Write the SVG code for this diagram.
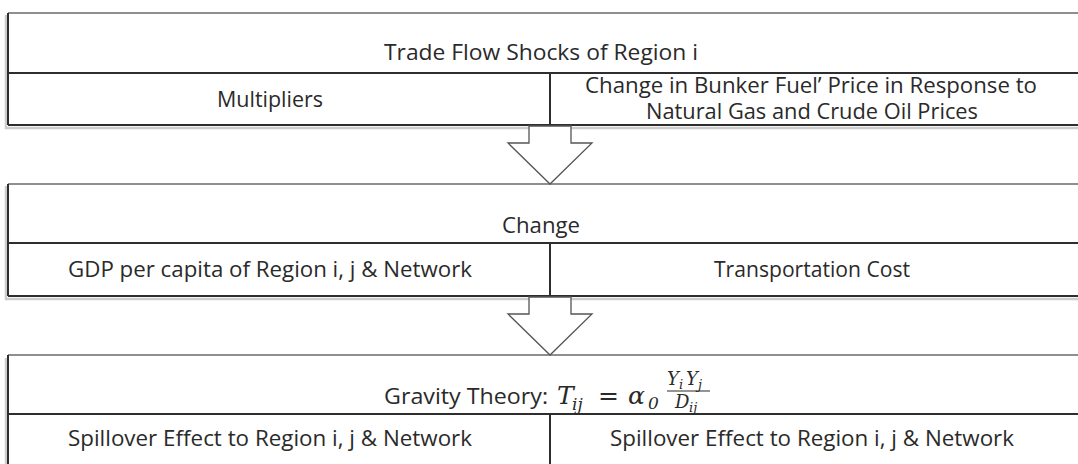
<svg xmlns="http://www.w3.org/2000/svg" width="1078" height="464" viewBox="0 0 1078 464">
<style>
.bg{fill:#ffffff}
.top{stroke:#6a6a6a;stroke-width:1.3;fill:none}
.ln{stroke:#2e2e2e;stroke-width:2;fill:none}
.sh{stroke:#cccccc;stroke-width:2.5;fill:none}
.t{font-family:"Open Sans","Noto Sans",sans-serif;font-size:21px;fill:#2a2a2a;text-anchor:middle}
.m{font-family:"DejaVu Serif","Liberation Serif",serif;font-style:italic;fill:#2a2a2a}
.arrow{fill:#ffffff;stroke:#555555;stroke-width:1.3;stroke-linejoin:miter}
</style>
<rect class="bg" x="0" y="0" width="1078" height="464"/>

<g id="node-trade-flow">
  <path class="sh" d="M6 15 V128 H1078"/>
  <line class="top" x1="8" y1="13" x2="1078" y2="13"/>
  <line class="ln" x1="8" y1="73" x2="1078" y2="73"/>
  <line class="ln" x1="8" y1="125" x2="1078" y2="125"/>
  <line class="ln" x1="8" y1="13" x2="8" y2="125"/>
  <line class="ln" x1="550" y1="73" x2="550" y2="125"/>
  <text class="t" x="541" y="60" textLength="314" lengthAdjust="spacingAndGlyphs">Trade Flow Shocks of Region i</text>
  <text class="t" x="270" y="107" textLength="106" lengthAdjust="spacingAndGlyphs">Multipliers</text>
  <text class="t" x="811" y="93" textLength="452" lengthAdjust="spacingAndGlyphs">Change in Bunker Fuel’ Price in Response  to</text>
  <text class="t" x="812" y="119" textLength="332" lengthAdjust="spacingAndGlyphs">Natural Gas and Crude Oil Prices</text>
</g>

<g id="node-change">
  <path class="sh" d="M6 186 V299 H1078"/>
  <line class="top" x1="8" y1="184" x2="1078" y2="184"/>
  <line class="ln" x1="8" y1="243" x2="1078" y2="243"/>
  <line class="ln" x1="8" y1="296" x2="1078" y2="296"/>
  <line class="ln" x1="8" y1="184" x2="8" y2="296"/>
  <line class="ln" x1="550" y1="243" x2="550" y2="296"/>
  <text class="t" x="541" y="233" textLength="78" lengthAdjust="spacingAndGlyphs">Change</text>
  <text class="t" x="270" y="277" textLength="404" lengthAdjust="spacingAndGlyphs">GDP per capita of Region i, j &amp; Network</text>
  <text class="t" x="812" y="277" textLength="196" lengthAdjust="spacingAndGlyphs">Transportation Cost</text>
</g>

<g id="node-gravity">
  <path class="sh" d="M6 358 V464"/>
  <line class="top" x1="8" y1="355" x2="1078" y2="355"/>
  <line class="ln" x1="8" y1="414" x2="1078" y2="414"/>
  <line class="ln" x1="8" y1="355" x2="8" y2="464"/>
  <line class="ln" x1="550" y1="414" x2="550" y2="464"/>
  <text class="t" x="466" y="404" textLength="164" lengthAdjust="spacingAndGlyphs">Gravity Theory:</text>
  <text class="m" x="557" y="404" font-size="25">T</text>
  <text class="m" x="572" y="410" font-size="17">ij</text>
  <text class="m" x="598" y="404" font-size="25" font-style="normal">=</text>
  <text class="m" x="628" y="404" font-size="25">α</text>
  <text class="m" x="648" y="409" font-size="17" font-style="normal">0</text>
  <text class="m" x="667" y="385" font-size="18">Y</text>
  <text class="m" x="679" y="389" font-size="13">i</text>
  <text class="m" x="686" y="385" font-size="18">Y</text>
  <text class="m" x="698" y="389" font-size="13">j</text>
  <line x1="667" y1="391" x2="710" y2="391" stroke="#2a2a2a" stroke-width="1.2"/>
  <text class="m" x="675" y="408" font-size="18">D</text>
  <text class="m" x="689" y="412" font-size="13">ij</text>
  <text class="t" x="270" y="446" textLength="404" lengthAdjust="spacingAndGlyphs">Spillover Effect to Region i, j &amp; Network</text>
  <text class="t" x="812" y="446" textLength="404" lengthAdjust="spacingAndGlyphs">Spillover Effect to Region i, j &amp; Network</text>
</g>

<g id="connectors">
  <polygon class="arrow" points="529,126 571,126 571,143 592,143 550,184 508,143 529,143"/>
  <polygon class="arrow" points="529,297 571,297 571,314 592,314 550,355 508,314 529,314"/>
</g>
</svg>
